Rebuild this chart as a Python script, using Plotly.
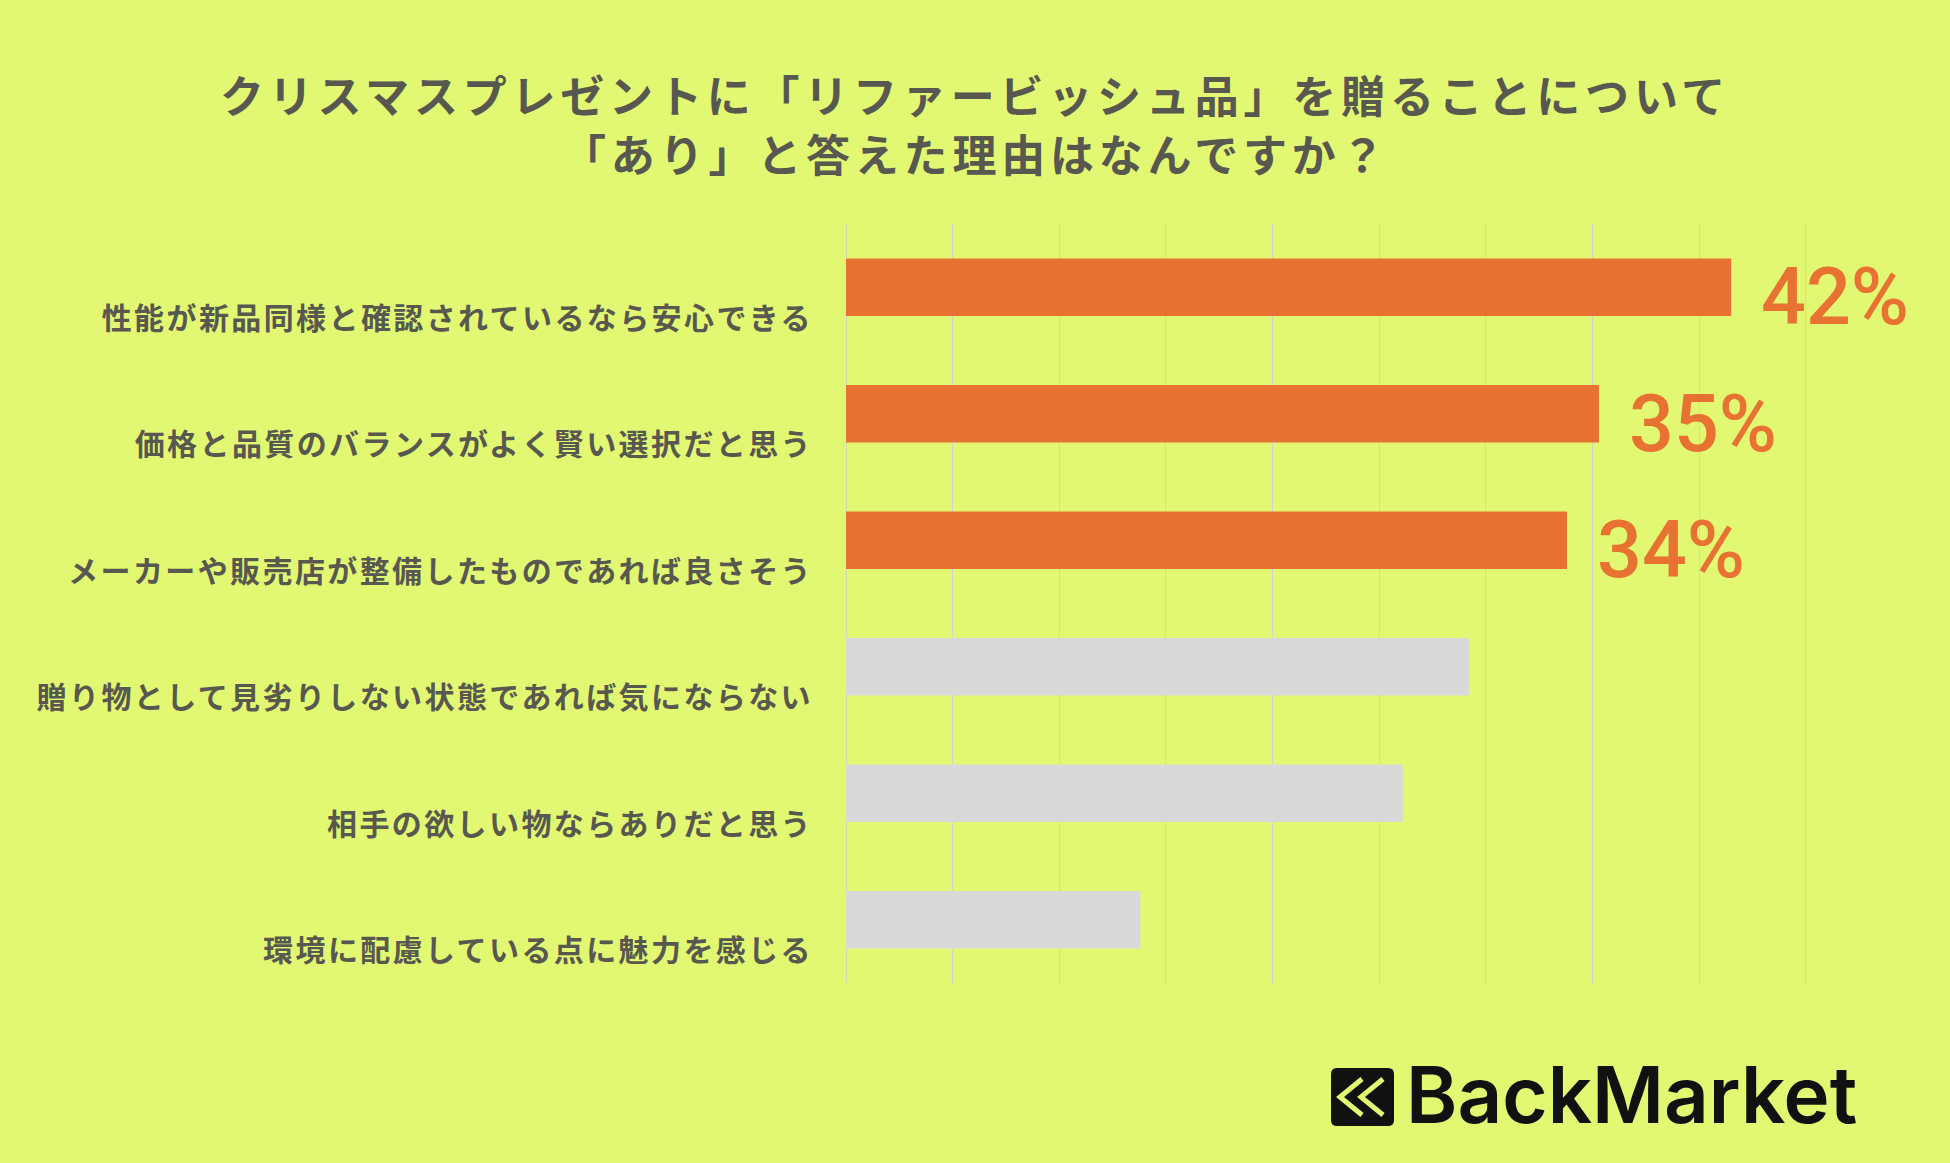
import plotly.graph_objects as go

# ---------------- data ----------------
categories = [
    "性能が新品同様と確認されているなら安心できる",
    "価格と品質のバランスがよく賢い選択だと思う",
    "メーカーや販売店が整備したものであれば良さそう",
    "贈り物として見劣りしない状態であれば気にならない",
    "相手の欲しい物ならありだと思う",
    "環境に配慮している点に魅力を感じる",
]
values = [41.5, 35.3, 33.8, 29.2, 26.1, 13.8]
value_labels = ["42%", "35%", "34%", "", "", ""]
title_lines = [
    "クリスマスプレゼントに「リファービッシュ品」を贈ることについて",
    "「あり」と答えた理由はなんですか？",
]
logo_text = "BackMarket"

# ---------------- style ----------------
BG = "#E2F872"
ORANGE = "#E87232"
GRAY = "#D9D9D9"
TEXT = "#585850"
GRID = "#D3D8C4"
highlight = 3
colors = [ORANGE if i < highlight else GRAY for i in range(len(values))]

W, H = 1950, 1163
L, R, T, B = 846, 1808, 224, 983


def px(x):
    return (x - L) / (R - L)


def py(y):
    return (B - y) / (B - T)


def spaced(s, sp):
    return f'<span style="letter-spacing:{sp}px">{s}</span>'


fig = go.Figure()
fig.add_trace(go.Bar(
    x=values,
    y=categories,
    orientation="h",
    marker=dict(color=colors, line=dict(width=0)),
    hoverinfo="x+y",
))

annotations = []
for cat, v, lab in zip(categories, values, value_labels):
    if lab:
        annotations.append(dict(
            x=v, y=cat, xref="x", yref="y", text=lab, showarrow=False,
            xanchor="left", yanchor="middle", xshift=28, yshift=-10,
            font=dict(family="Roboto, Liberation Sans, Arial", size=79,
                      color=ORANGE, weight=500),
        ))

# title lines (centred on the page)
for line, ycen in zip(title_lines, [94, 153]):
    annotations.append(dict(
        x=px(W / 2), y=py(ycen), xref="paper", yref="paper", text=spaced(line, 4.8),
        showarrow=False, xanchor="center", yanchor="middle",
        font=dict(family="Noto Sans CJK JP", size=44, color=TEXT, weight=700),
    ))

# logo text
annotations.append(dict(
    x=px(1404), y=py(1094), xref="paper", yref="paper", text=logo_text,
    showarrow=False, xanchor="left", yanchor="middle",
    font=dict(family="Inter, Lato, Roboto, sans-serif", size=78, color="#111111", weight=600),
))

shapes = []
# logo icon box (rounded square)
x0, x1, y0, y1, r = 1331, 1394, 1068, 1126, 6
path = (f"M {px(x0 + r)},{py(y0)} L {px(x1 - r)},{py(y0)} "
        f"Q {px(x1)},{py(y0)} {px(x1)},{py(y0 + r)} L {px(x1)},{py(y1 - r)} "
        f"Q {px(x1)},{py(y1)} {px(x1 - r)},{py(y1)} L {px(x0 + r)},{py(y1)} "
        f"Q {px(x0)},{py(y1)} {px(x0)},{py(y1 - r)} L {px(x0)},{py(y0 + r)} "
        f"Q {px(x0)},{py(y0)} {px(x0 + r)},{py(y0)} Z")
shapes.append(dict(type="path", xref="paper", yref="paper", path=path,
                   fillcolor="#111111", line=dict(width=0), layer="above"))
for ax, ex in [(1340, 1362), (1361, 1383)]:
    p = f"M {px(ex)},{py(1079)} L {px(ax)},{py(1097)} L {px(ex)},{py(1115)}"
    shapes.append(dict(type="path", xref="paper", yref="paper", path=p,
                       line=dict(color=BG, width=5), layer="above"))

fig.update_layout(
    width=W, height=H,
    paper_bgcolor=BG, plot_bgcolor=BG,
    margin=dict(l=L, r=W - R, t=T, b=H - B, pad=0),
    bargap=0.547,
    showlegend=False,
    xaxis=dict(
        range=[0, 45.1], dtick=5, tick0=0, showgrid=True, gridcolor=GRID, gridwidth=1,
        zeroline=True, zerolinecolor=GRID, zerolinewidth=1,
        showticklabels=False, ticks="", showline=False, fixedrange=True,
    ),
    yaxis=dict(
        autorange="reversed", showgrid=False, zeroline=False, showline=False,
        ticks="", tickmode="array", tickvals=categories,
        ticktext=[spaced(c, 2.4) for c in categories],
        tickfont=dict(family="Noto Sans CJK JP", size=30, color=TEXT, weight=700),
        ticklabelstandoff=32, ticklabelshift=-31,
    ),
    annotations=annotations,
    shapes=shapes,
    font=dict(family="Noto Sans CJK JP"),
)

fig.write_html(
    "out.html",
    config={"displayModeBar": False},
    post_script=(
        "document.body.style.margin='0';"
        "document.body.style.overflow='hidden';"
        f"document.body.style.background='{BG}';"
    ),
)
